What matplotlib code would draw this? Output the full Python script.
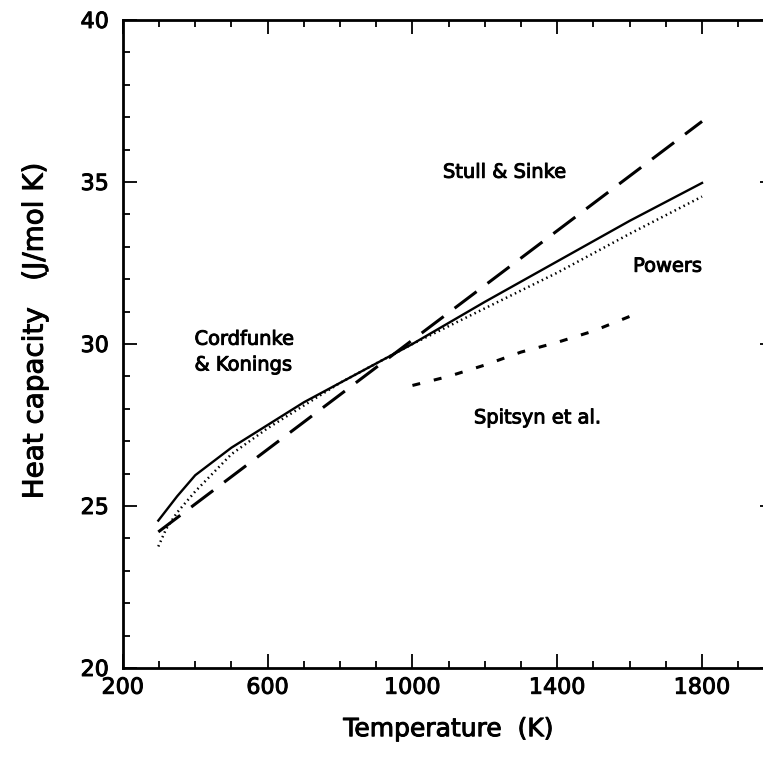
import matplotlib
matplotlib.use('Agg')
import matplotlib.pyplot as plt
import matplotlib.patheffects as pe
from matplotlib.ticker import MultipleLocator

# Cordfunke & Konings (solid)
T_ck = [298, 350, 400, 500, 600, 700, 800, 900, 1000, 1200, 1400, 1600, 1800]
cp_ck = [24.55, 25.3, 25.95, 26.8, 27.5, 28.2, 28.8, 29.4, 30.0, 31.3, 32.55, 33.8, 34.97]

# Powers (dotted)
T_pw = [298, 320, 350, 400, 500, 600, 800, 1000, 1200, 1400, 1600, 1800]
cp_pw = [23.75, 24.3, 24.8, 25.45, 26.6, 27.4, 28.8, 30.0, 31.1, 32.2, 33.4, 34.55]

# Stull & Sinke (long dash)
T_ss = [298, 1800]
cp_ss = [24.2, 36.87]

# Spitsyn et al. (short dash)
T_sp = [1000, 1100, 1200, 1300, 1400, 1500, 1600]
cp_sp = [28.72, 29.0, 29.35, 29.75, 30.05, 30.4, 30.85]

plt.rcParams['font.family'] = ['DejaVu Sans']
thick = [pe.withStroke(linewidth=0.7, foreground='black')]

fig = plt.figure(figsize=(7.63, 7.71), dpi=100)
ax = fig.add_axes([0.161, 0.1336, 0.854, 0.8405])

ax.plot(T_ck, cp_ck, color='black', lw=1.7)
ax.plot(T_pw, cp_pw, color='black', lw=1.8, linestyle=(0, (0.6, 1.4)))
ax.plot(T_ss, cp_ss, color='black', lw=2.2, linestyle=(0, (9, 4.5)))
ax.plot(T_sp, cp_sp, color='black', lw=2.2, linestyle=(0, (2.6, 4.6)))

lab = dict(fontsize=14, path_effects=thick)
ax.text(1255, 35.3, 'Stull & Sinke', ha='center', va='center', **lab)
ax.text(1705, 32.4, 'Powers', ha='center', va='center', **lab)
ax.text(398, 29.75, 'Cordfunke\n& Konings', ha='left', va='center',
        linespacing=1.45, **lab)
ax.text(1346, 27.72, 'Spitsyn et al.', ha='center', va='center', **lab)

ax.set_xlim(200, 2000)
ax.set_ylim(20, 40)
ax.xaxis.set_major_locator(MultipleLocator(400))
ax.xaxis.set_minor_locator(MultipleLocator(100))
ax.yaxis.set_major_locator(MultipleLocator(5))
ax.yaxis.set_minor_locator(MultipleLocator(1))
ax.set_xticks([200, 600, 1000, 1400, 1800])
ax.tick_params(which='both', direction='in', top=True, right=True, width=1.3,
               labelsize=16)
ax.tick_params(which='major', length=10)
ax.tick_params(which='minor', length=5)
ax.tick_params(axis='x', which='major', pad=7)
ax.tick_params(axis='y', which='major', pad=10)
for t in ax.get_xticklabels() + ax.get_yticklabels():
    t.set_path_effects(thick)
for s in ax.spines.values():
    s.set_linewidth(2)

ax.set_xlabel('Temperature  (K)', fontsize=18, labelpad=14, path_effects=thick)
ax.set_ylabel('Heat capacity   (J/mol K)', fontsize=20, labelpad=23,
              path_effects=thick)
ax.yaxis.label.set_y(0.52)

fig.savefig('out.png', dpi=100)
